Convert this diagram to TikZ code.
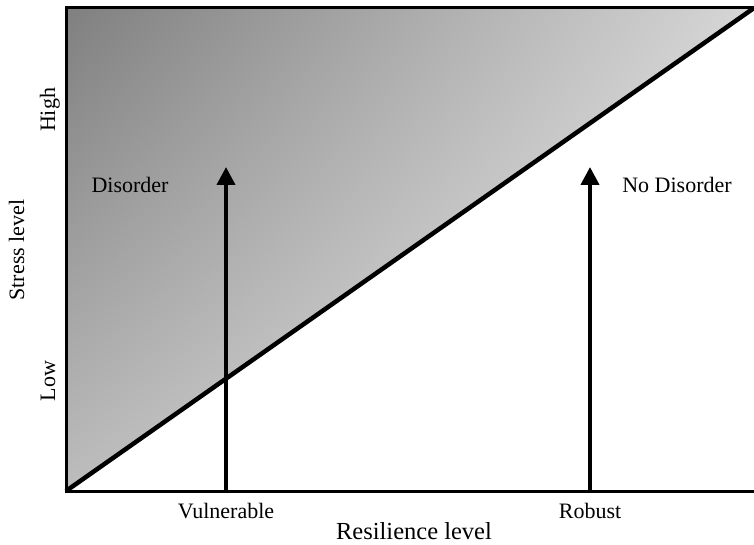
\documentclass[tikz,border=0pt]{standalone}
\usepackage{fontspec}
\setmainfont{Liberation Serif}
\usetikzlibrary{arrows.meta,shadings}
\definecolor{gUL}{gray}{0.50}
\definecolor{gUR}{gray}{0.84}
\definecolor{gLL}{gray}{0.74}
\definecolor{gLR}{gray}{0.97}
\tikzset{
  lbl/.style={font=\fontsize{22}{24}\selectfont, inner sep=0pt, anchor=base},
  axlbl/.style={font=\fontsize{24.5}{27}\selectfont, inner sep=0pt, anchor=base},
  frame/.style={line width=3pt, line cap=rect},
  diag/.style={line width=4.5pt},
  uparrow/.style={line width=4pt, -{Triangle[width=18pt,length=18pt]}}
}
\begin{document}
\begin{tikzpicture}[x=1pt,y=-1pt]
\useasboundingbox (0,0) rectangle (754,545);
% shaded region
\shade[upper left=gUL, upper right=gUR, lower left=gLL, lower right=gLR]
  (66,8) -- (754,8) -- (66,491) -- cycle;
% frame
\coordinate (tr) at (754,8);
\coordinate (tl) at (66,8);
\coordinate (bl) at (66,491);
\coordinate (br) at (754,491);
\draw[frame] (tr) -- (tl) -- (bl) -- (br);
% diagonal
\draw[diag] (bl) -- (tr);
% arrows
\coordinate (v0) at (226,491);
\coordinate (v1) at (226,167);
\coordinate (r0) at (590,491);
\coordinate (r1) at (590,167);
\draw[uparrow] (v0) -- (v1);
\draw[uparrow] (r0) -- (r1);
% labels
\node[lbl] (dis) at (130,193) {Disorder};
\node[lbl] (nodis) at (677,193) {No Disorder};
\node[lbl] (vul) at (226,518) {Vulnerable};
\node[lbl] (rob) at (590,518) {Robust};
\node[axlbl] (res) at (414,539) {Resilience level};
\node[lbl, rotate=90] (high) at (55,110) {High};
\node[lbl, rotate=90] (low) at (55,381) {Low};
\node[lbl, rotate=90] (stress) at (24,250) {Stress level};
\end{tikzpicture}
\end{document}
